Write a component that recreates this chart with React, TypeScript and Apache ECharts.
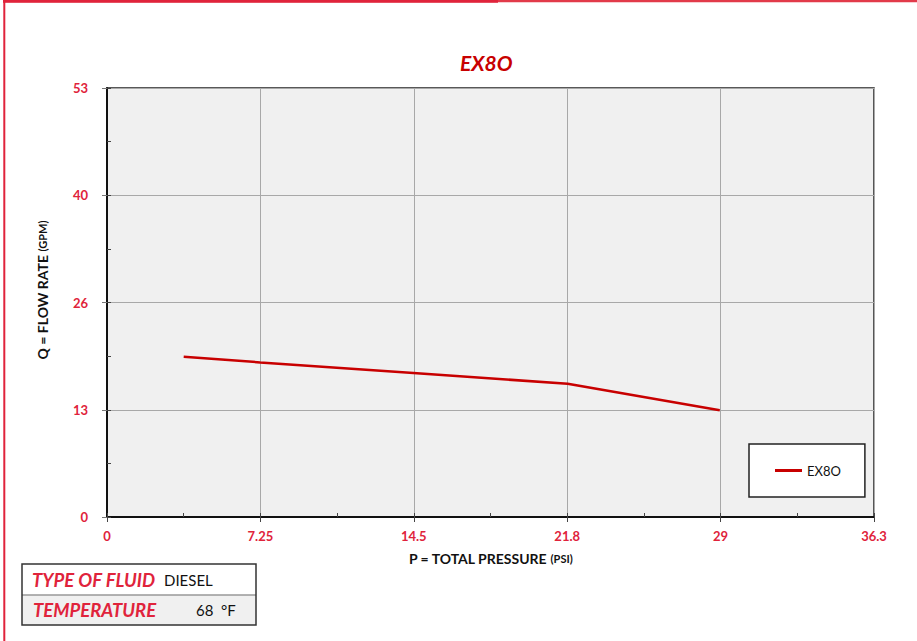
import React, { useEffect, useRef } from "react";
import * as echarts from "echarts";

const chartTitle = "EX8O";
const seriesName = "EX8O";
const pressure = [3.63, 7.25, 14.5, 21.8, 29];
const flow = [19.8, 19.1, 17.8, 16.45, 13.2];
const xTickLabels = ["0", "7.25", "14.5", "21.8", "29", "36.3"];
const yTickLabels = ["0", "13", "26", "40", "53"];
const xMax = 36.3;
const yMax = 53;
const fluidType = "DIESEL";
const temperature = "68  °F";

const RED = "#e0233b";
const DARK_RED = "#c80000";
const FONT = "Lato, 'Open Sans', sans-serif";

export default function App() {
  const ref = useRef<HTMLDivElement>(null);
  useEffect(() => {
    document.body.style.margin = "0";
    if (!ref.current) return;
    const chart = echarts.init(ref.current, undefined, { renderer: "svg" });
    const xInt = xMax / (xTickLabels.length - 1);
    const yInt = yMax / (yTickLabels.length - 1);
    const data = pressure.map((p, i) => [p, flow[i]]);
    chart.setOption({
      animation: false,
      backgroundColor: "#ffffff",
      textStyle: { fontFamily: FONT },
      title: {
        text: chartTitle,
        left: 455,
        top: 47,
        textStyle: { color: DARK_RED, fontSize: 21, fontWeight: "bold", fontStyle: "italic", fontFamily: FONT },
      },
      grid: {
        left: 107,
        top: 88,
        right: 43,
        bottom: 124,
        show: true,
        backgroundColor: "#f0f0f0",
        borderColor: "#222222",
        borderWidth: 1.5,
      },
      legend: {
        left: 749,
        top: 444,
        orient: "vertical",
        backgroundColor: "#ffffff",
        borderColor: "#222222",
        borderWidth: 1.5,
        borderRadius: 0,
        padding: [20, 24, 20, 26],
        itemWidth: 27,
        itemHeight: 3,
        icon: "rect",
        data: [seriesName],
        textStyle: { color: "#111", fontSize: 13, fontFamily: FONT },
      },
      xAxis: [
        {
          type: "value",
          min: 0,
          max: xMax,
          interval: xInt,
          name: "{a|P = TOTAL PRESSURE }{b|(PSI)}",
          nameLocation: "middle",
          nameGap: 34,
          nameTextStyle: {
            rich: {
              a: { fontSize: 14, fontWeight: "bold", color: "#111", fontFamily: FONT },
              b: { fontSize: 11, fontWeight: "bold", color: "#111", fontFamily: FONT },
            },
          },
          axisLine: { show: true, lineStyle: { color: "#111", width: 2 } },
          axisTick: { show: true, inside: false, length: 5, lineStyle: { color: "#444" } },
          axisLabel: {
            margin: 12,
            color: RED,
            fontSize: 13,
            fontWeight: "bold",
            fontFamily: FONT,
            formatter: (v: number) => xTickLabels[Math.round(v / xInt)] ?? "",
          },
          splitLine: { show: true, lineStyle: { color: "#a8a8a8", width: 1 } },
        },
        {
          type: "value",
          min: 0,
          max: xMax,
          interval: xInt / 2,
          position: "bottom",
          axisLine: { show: false },
          axisTick: { show: true, inside: true, length: 4, lineStyle: { color: "#444" } },
          axisLabel: { show: false },
          splitLine: { show: false },
        },
      ],
      yAxis: [
        {
          type: "value",
          min: 0,
          max: yMax,
          interval: yInt,
          axisLine: { show: true, lineStyle: { color: "#111", width: 2 } },
          axisTick: { show: true, inside: false, length: 5, lineStyle: { color: "#777" } },
          axisLabel: {
            margin: 19,
            color: RED,
            fontSize: 13,
            fontWeight: "bold",
            fontFamily: FONT,
            formatter: (v: number) => yTickLabels[Math.round(v / yInt)] ?? "",
          },
          splitLine: { show: true, lineStyle: { color: "#a8a8a8", width: 1 } },
        },
        {
          type: "value",
          min: 0,
          max: yMax,
          interval: yInt / 2,
          position: "left",
          axisLine: { show: false },
          axisTick: { show: true, inside: true, length: 4, lineStyle: { color: "#444" } },
          axisLabel: { show: false },
          splitLine: { show: false },
        },
      ],
      series: [
        {
          name: seriesName,
          type: "line",
          xAxisIndex: 0,
          yAxisIndex: 0,
          data,
          showSymbol: false,
          symbol: "none",
          lineStyle: { color: DARK_RED, width: 2.5 },
          itemStyle: { color: DARK_RED },
        },
      ],
      graphic: [
        { type: "rect", z: 100, shape: { x: 3, y: 0, width: 914, height: 2.2 }, style: { fill: "#e23a4a" }, silent: true },
        { type: "rect", z: 101, shape: { x: 3, y: 0, width: 495, height: 2.8 }, style: { fill: RED }, silent: true },
        { type: "rect", z: 101, shape: { x: 3.3, y: 0, width: 2, height: 641 }, style: { fill: RED }, silent: true },
        {
          type: "text",
          x: 42,
          y: 290,
          rotation: Math.PI / 2,
          style: {
            text: "{a|Q = FLOW RATE }{b|(GPM)}",
            align: "center",
            verticalAlign: "middle",
            rich: {
              a: { fontSize: 14, fontWeight: "bold", fill: "#111", fontFamily: FONT },
              b: { fontSize: 11, fontWeight: "bold", fill: "#111", fontFamily: FONT },
            },
          },
          silent: true,
        },
        { type: "rect", shape: { x: 22, y: 595, width: 234, height: 30 }, style: { fill: "#f0f0f0" }, silent: true },
        { type: "line", shape: { x1: 22, y1: 595, x2: 256, y2: 595 }, style: { stroke: "#999", lineWidth: 1.5 }, silent: true },
        { type: "rect", shape: { x: 22, y: 564, width: 234, height: 61 }, style: { fill: "none", stroke: "#333", lineWidth: 1.5 }, silent: true },
        {
          type: "text",
          x: 32,
          y: 580,
          style: { text: "TYPE OF FLUID", fill: RED, font: `italic bold 18.5px ${FONT}`, verticalAlign: "middle" },
          silent: true,
        },
        {
          type: "text",
          x: 164,
          y: 580,
          style: { text: fluidType, fill: "#111", font: `15px ${FONT}`, verticalAlign: "middle" },
          silent: true,
        },
        {
          type: "text",
          x: 33,
          y: 610,
          style: { text: "TEMPERATURE", fill: RED, font: `italic bold 18.5px ${FONT}`, verticalAlign: "middle" },
          silent: true,
        },
        {
          type: "text",
          x: 196,
          y: 610,
          style: { text: temperature, fill: "#111", font: `15px ${FONT}`, verticalAlign: "middle" },
          silent: true,
        },
      ],
    });
    return () => chart.dispose();
  }, []);
  return <div ref={ref} style={{ width: 917, height: 641 }} />;
}
